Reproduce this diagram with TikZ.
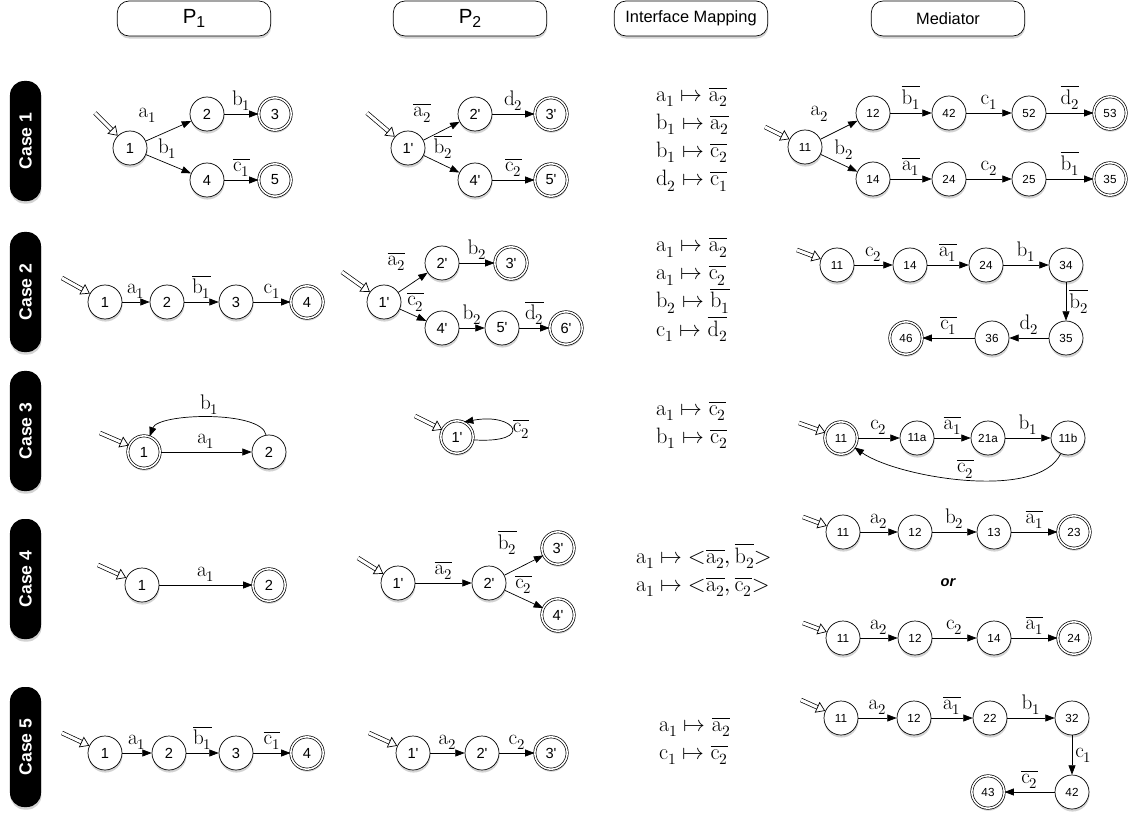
\documentclass[tikz,border=0pt]{standalone}
\usepackage{fontspec}
\usepackage{unicode-math}
\setsansfont{Liberation Sans}
\usetikzlibrary{arrows.meta,shadows}

\newcommand{\act}[2]{$\mathrm{#1}_{#2}$}
\newcommand{\coact}[2]{$\overline{\mathrm{#1}_{#2}}$}
\newcommand{\pr}{\textquotesingle}

\begin{document}
\begin{tikzpicture}[x=0.03cm, y=-0.03cm,
	state/.style={circle, draw, fill=white, line width=0.6pt, minimum size=1.02cm, inner sep=0pt, font=\sffamily\fontsize{12.5}{12.5}\selectfont, drop shadow={shadow xshift=0.4pt, shadow yshift=-2.2pt, opacity=0.35}},
	final/.style={state, double, double distance=1.3pt, minimum size=0.97cm},
	mstate/.style={state, font=\sffamily\fontsize{10}{10}\selectfont},
	mfinal/.style={final, font=\sffamily\fontsize{10}{10}\selectfont},
	trans/.style={line width=0.6pt, -{Triangle[length=8pt, width=6pt]}},
	lbl/.style={font=\fontsize{18}{18}\selectfont, inner sep=2.5pt},
	initarr/.style={double, double distance=2.6pt, line width=0.6pt, -{Triangle[open, length=7.5pt, width=10pt, line width=0.6pt]}},
	header/.style={draw, fill=white, rounded corners=10pt, line width=0.6pt, minimum width=4.6cm, minimum height=1.05cm, drop shadow={shadow xshift=0.4pt, shadow yshift=-2.2pt, opacity=0.35}, font=\sffamily\fontsize{14}{14}\selectfont},
	casebox/.style={fill=black, rounded corners=12pt, minimum width=3.6cm, minimum height=0.93cm, rotate=90, text=white, font=\sffamily\bfseries\fontsize{15}{15}\selectfont, drop shadow={shadow xshift=0.4pt, shadow yshift=-2.2pt, opacity=0.35}},
	mapping/.style={anchor=west, align=left, font=\fontsize{19}{24}\selectfont}
]
	\useasboundingbox (0,0) rectangle (1142,818);

	% column headers
	\node[header, font=\sffamily\fontsize{17.5}{17.5}\selectfont] (hp1) at (194,18.5) {P\raisebox{-0.45ex}{\fontsize{13.5}{13.5}\selectfont 1}};
	\node[header, font=\sffamily\fontsize{17.5}{17.5}\selectfont] (hp2) at (470,18.5) {P\raisebox{-0.45ex}{\fontsize{13.5}{13.5}\selectfont 2}};
	\node[header] (hmap) at (691,18.5) {Interface Mapping};
	\node[header] (hmed) at (948,18.5) {Mediator};

	% row labels
	\node[casebox] (case1) at (25.5,141) {Case 1};
	\node[casebox] (case2) at (25.5,292) {Case 2};
	\node[casebox] (case3) at (25.5,431) {Case 3};
	\node[casebox] (case4) at (25.5,579) {Case 4};
	\node[casebox] (case5) at (25.5,747) {Case 5};

	% case 1
	\coordinate (c1a0) at (95,113);
	\node[state] (c1a1) at (130,148) {1};
	\node[state] (c1a2) at (207,114) {2};
	\node[final] (c1a3) at (275,114) {3};
	\node[state] (c1a4) at (207,180) {4};
	\node[final] (c1a5) at (275,180) {5};
	\draw[initarr] (c1a0) -- (c1a1);
	\draw[trans] (c1a1) -- node[lbl, above left, pos=0.3, yshift=8pt] {\act{a}{1}} (c1a2);
	\draw[trans] (c1a2) -- node[lbl, above] {\act{b}{1}} (c1a3);
	\draw[trans] (c1a1) -- node[lbl, above right, pos=0.25, inner sep=0.5pt] {\act{b}{1}} (c1a4);
	\draw[trans] (c1a4) -- node[lbl, above] {\coact{c}{1}} (c1a5);

	\coordinate (c1b0) at (367,113);
	\node[state] (c1b1) at (408,148) {1\pr};
	\node[state] (c1b2) at (475,114) {2\pr};
	\node[final] (c1b3) at (551,114) {3\pr};
	\node[state] (c1b4) at (475,180) {4\pr};
	\node[final] (c1b5) at (551,180) {5\pr};
	\draw[initarr] (c1b0) -- (c1b1);
	\draw[trans] (c1b1) -- node[lbl, above left, pos=0.3, yshift=8pt] {\coact{a}{2}} (c1b2);
	\draw[trans] (c1b2) -- node[lbl, above] {\act{d}{2}} (c1b3);
	\draw[trans] (c1b1) -- node[lbl, above right, pos=0.25, inner sep=0.5pt] {\coact{b}{2}} (c1b4);
	\draw[trans] (c1b4) -- node[lbl, above] {\coact{c}{2}} (c1b5);

	\node[mapping] (map1) at (652,139) {$\mathrm{a}_1 \mapsto \overline{\mathrm{a}_2}$\\$\mathrm{b}_1 \mapsto \overline{\mathrm{a}_2}$\\$\mathrm{b}_1 \mapsto \overline{\mathrm{c}_2}$\\$\mathrm{d}_2 \mapsto \overline{\mathrm{c}_1}$};

	\coordinate (c1m0) at (765,127);
	\node[mstate] (c1m11) at (805,147) {11};
	\node[mstate] (c1m12) at (873,113) {12};
	\node[mstate] (c1m42) at (949,113) {42};
	\node[mstate] (c1m52) at (1029,113) {52};
	\node[mfinal] (c1m53) at (1110,113) {53};
	\node[mstate] (c1m14) at (873,179) {14};
	\node[mstate] (c1m24) at (949,179) {24};
	\node[mstate] (c1m25) at (1029,179) {25};
	\node[mfinal] (c1m35) at (1110,179) {35};
	\draw[initarr] (c1m0) -- (c1m11);
	\draw[trans] (c1m11) -- node[lbl, above left, pos=0.3, yshift=8pt] {\act{a}{2}} (c1m12);
	\draw[trans] (c1m12) -- node[lbl, above] {\coact{b}{1}} (c1m42);
	\draw[trans] (c1m42) -- node[lbl, above] {\act{c}{1}} (c1m52);
	\draw[trans] (c1m52) -- node[lbl, above] {\coact{d}{2}} (c1m53);
	\draw[trans] (c1m11) -- node[lbl, above right, pos=0.35, inner sep=0.5pt] {\act{b}{2}} (c1m14);
	\draw[trans] (c1m14) -- node[lbl, above] {\coact{a}{1}} (c1m24);
	\draw[trans] (c1m24) -- node[lbl, above] {\act{c}{2}} (c1m25);
	\draw[trans] (c1m25) -- node[lbl, above] {\coact{b}{1}} (c1m35);

	% case 2
	\coordinate (c2a0) at (62,278);
	\node[state] (c2a1) at (105,302) {1};
	\node[state] (c2a2) at (167,302) {2};
	\node[state] (c2a3) at (236,302) {3};
	\node[final] (c2a4) at (307,302) {4};
	\draw[initarr] (c2a0) -- (c2a1);
	\draw[trans] (c2a1) -- node[lbl, above] {\act{a}{1}} (c2a2);
	\draw[trans] (c2a2) -- node[lbl, above] {\coact{b}{1}} (c2a3);
	\draw[trans] (c2a3) -- node[lbl, above] {\act{c}{1}} (c2a4);

	\coordinate (c2b0) at (342,272);
	\node[state] (c2b1) at (384,302) {1\pr};
	\node[state] (c2b2) at (442,263) {2\pr};
	\node[final] (c2b3) at (511,263) {3\pr};
	\node[state] (c2b4) at (442,328) {4\pr};
	\node[state] (c2b5) at (502,328) {5\pr};
	\node[final] (c2b6) at (566,328) {6\pr};
	\draw[initarr] (c2b0) -- (c2b1);
	\draw[trans] (c2b1) -- node[lbl, above left, pos=0.35, yshift=10pt] {\coact{a}{2}} (c2b2);
	\draw[trans] (c2b2) -- node[lbl, above] {\act{b}{2}} (c2b3);
	\draw[trans] (c2b1) -- node[lbl, above right, pos=0.25, inner sep=0.5pt] {\coact{c}{2}} (c2b4);
	\draw[trans] (c2b4) -- node[lbl, above] {\act{b}{2}} (c2b5);
	\draw[trans] (c2b5) -- node[lbl, above] {\coact{d}{2}} (c2b6);

	\node[mapping] (map2) at (652,289.5) {$\mathrm{a}_1 \mapsto \overline{\mathrm{a}_2}$\\$\mathrm{a}_1 \mapsto \overline{\mathrm{c}_2}$\\$\mathrm{b}_2 \mapsto \overline{\mathrm{b}_1}$\\$\mathrm{c}_1 \mapsto \overline{\mathrm{d}_2}$};

	\coordinate (c2m0) at (797,250);
	\node[mstate] (c2m11) at (837,265) {11};
	\node[mstate] (c2m14) at (910,265) {14};
	\node[mstate] (c2m24) at (986,265) {24};
	\node[mstate] (c2m34) at (1066,265) {34};
	\node[mstate] (c2m35) at (1066,338) {35};
	\node[mstate] (c2m36) at (992,338) {36};
	\node[mfinal] (c2m46) at (906,338) {46};
	\draw[initarr] (c2m0) -- (c2m11);
	\draw[trans] (c2m11) -- node[lbl, above] {\act{c}{2}} (c2m14);
	\draw[trans] (c2m14) -- node[lbl, above] {\coact{a}{1}} (c2m24);
	\draw[trans] (c2m24) -- node[lbl, above] {\act{b}{1}} (c2m34);
	\draw[trans] (c2m34) -- node[lbl, right] {\coact{b}{2}} (c2m35);
	\draw[trans] (c2m35) -- node[lbl, above] {\act{d}{2}} (c2m36);
	\draw[trans] (c2m36) -- node[lbl, above] {\coact{c}{1}} (c2m46);

	% case 3
	\coordinate (c3a0) at (100,433);
	\node[final] (c3a1) at (144,452) {1};
	\node[state] (c3a2) at (269,452) {2};
	\draw[initarr] (c3a0) -- (c3a1);
	\draw[trans] (c3a1) -- node[lbl, above] {\act{a}{1}} (c3a2);
	\draw[trans] (c3a2) to[out=100, in=70, looseness=0.55] node[lbl, above] {\act{b}{1}} (c3a1);

	\coordinate (c3b0) at (415,416);
	\node[final] (c3b1) at (457,437) {1\pr};
	\draw[initarr] (c3b0) -- (c3b1);
	\draw[trans] (c3b1.-10) .. controls +(62,4) and +(52,-10) .. node[lbl, right, inner sep=1pt] {\coact{c}{2}} (c3b1.65);

	\node[mapping] (map3) at (652,425) {$\mathrm{a}_1 \mapsto \overline{\mathrm{c}_2}$\\$\mathrm{b}_1 \mapsto \overline{\mathrm{c}_2}$};

	\coordinate (c3m0) at (799,423);
	\node[mfinal] (c3m11) at (841,438) {11};
	\node[mstate] (c3m11a) at (917,438) {11a};
	\node[mstate] (c3m21a) at (988,438) {21a};
	\node[mstate] (c3m11b) at (1068,438) {11b};
	\draw[initarr] (c3m0) -- (c3m11);
	\draw[trans] (c3m11) -- node[lbl, above] {\act{c}{2}} (c3m11a);
	\draw[trans] (c3m11a) -- node[lbl, above] {\coact{a}{1}} (c3m21a);
	\draw[trans] (c3m21a) -- node[lbl, above] {\act{b}{1}} (c3m11b);
	\draw[trans] (c3m11b) to[out=-115, in=-35, looseness=0.65] node[lbl, above, inner sep=1pt] {\coact{c}{2}} (c3m11);

	% case 4
	\coordinate (c4a0) at (98,565);
	\node[state] (c4a1) at (142,585) {1};
	\node[final] (c4a2) at (269,585) {2};
	\draw[initarr] (c4a0) -- (c4a1);
	\draw[trans] (c4a1) -- node[lbl, above] {\act{a}{1}} (c4a2);

	\coordinate (c4b0) at (358,558);
	\node[state] (c4b1) at (398,583) {1\pr};
	\node[state] (c4b2) at (489,583) {2\pr};
	\node[final] (c4b3) at (558,548) {3\pr};
	\node[final] (c4b4) at (558,615) {4\pr};
	\draw[initarr] (c4b0) -- (c4b1);
	\draw[trans] (c4b1) -- node[lbl, above] {\coact{a}{2}} (c4b2);
	\draw[trans] (c4b2) -- node[lbl, above left, pos=0.4, yshift=8pt] {\coact{b}{2}} (c4b3);
	\draw[trans] (c4b2) -- node[lbl, above right, pos=0.25, inner sep=0.5pt] {\coact{c}{2}} (c4b4);

	\node[mapping] (map4) at (632,570) {$\mathrm{a}_1 \mapsto\mathord{<}\overline{\mathrm{a}_2}, \overline{\mathrm{b}_2}\mathord{>}$\\$\mathrm{a}_1 \mapsto\mathord{<}\overline{\mathrm{a}_2}, \overline{\mathrm{c}_2}\mathord{>}$};

	\coordinate (c4m0) at (803,517);
	\node[mstate] (c4m11) at (843,532) {11};
	\node[mstate] (c4m12) at (915,532) {12};
	\node[mstate] (c4m13) at (994,532) {13};
	\node[mfinal] (c4m23) at (1074,532) {23};
	\draw[initarr] (c4m0) -- (c4m11);
	\draw[trans] (c4m11) -- node[lbl, above] {\act{a}{2}} (c4m12);
	\draw[trans] (c4m12) -- node[lbl, above] {\act{b}{2}} (c4m13);
	\draw[trans] (c4m13) -- node[lbl, above] {\coact{a}{1}} (c4m23);

	\node[font=\sffamily\bfseries\itshape\fontsize{12.5}{12.5}\selectfont] (or4) at (948,583) {or};

	\coordinate (c4n0) at (803,623);
	\node[mstate] (c4n11) at (843,638) {11};
	\node[mstate] (c4n12) at (915,638) {12};
	\node[mstate] (c4n14) at (994,638) {14};
	\node[mfinal] (c4n24) at (1074,638) {24};
	\draw[initarr] (c4n0) -- (c4n11);
	\draw[trans] (c4n11) -- node[lbl, above] {\act{a}{2}} (c4n12);
	\draw[trans] (c4n12) -- node[lbl, above] {\act{c}{2}} (c4n14);
	\draw[trans] (c4n14) -- node[lbl, above] {\coact{a}{1}} (c4n24);

	% case 5
	\coordinate (c5a0) at (62,733);
	\node[state] (c5a1) at (105,753) {1};
	\node[state] (c5a2) at (169,753) {2};
	\node[state] (c5a3) at (236,753) {3};
	\node[final] (c5a4) at (307,753) {4};
	\draw[initarr] (c5a0) -- (c5a1);
	\draw[trans] (c5a1) -- node[lbl, above] {\act{a}{1}} (c5a2);
	\draw[trans] (c5a2) -- node[lbl, above] {\coact{b}{1}} (c5a3);
	\draw[trans] (c5a3) -- node[lbl, above] {\coact{c}{1}} (c5a4);

	\coordinate (c5b0) at (369,733);
	\node[state] (c5b1) at (413,753) {1\pr};
	\node[state] (c5b2) at (482,753) {2\pr};
	\node[final] (c5b3) at (551,753) {3\pr};
	\draw[initarr] (c5b0) -- (c5b1);
	\draw[trans] (c5b1) -- node[lbl, above] {\act{a}{2}} (c5b2);
	\draw[trans] (c5b2) -- node[lbl, above] {\act{c}{2}} (c5b3);

	\node[mapping] (map5) at (655,741) {$\mathrm{a}_1 \mapsto \overline{\mathrm{a}_2}$\\$\mathrm{c}_1 \mapsto \overline{\mathrm{c}_2}$};

	\coordinate (c5m0) at (801,700);
	\node[mstate] (c5m11) at (841,718) {11};
	\node[mstate] (c5m12) at (914,718) {12};
	\node[mstate] (c5m22) at (990,718) {22};
	\node[mstate] (c5m32) at (1072,718) {32};
	\node[mstate] (c5m42) at (1072,792) {42};
	\node[mfinal] (c5m43) at (988,792) {43};
	\draw[initarr] (c5m0) -- (c5m11);
	\draw[trans] (c5m11) -- node[lbl, above] {\act{a}{2}} (c5m12);
	\draw[trans] (c5m12) -- node[lbl, above] {\coact{a}{1}} (c5m22);
	\draw[trans] (c5m22) -- node[lbl, above] {\act{b}{1}} (c5m32);
	\draw[trans] (c5m32) -- node[lbl, right] {\act{c}{1}} (c5m42);
	\draw[trans] (c5m42) -- node[lbl, above] {\coact{c}{2}} (c5m43);
\end{tikzpicture}
\end{document}
